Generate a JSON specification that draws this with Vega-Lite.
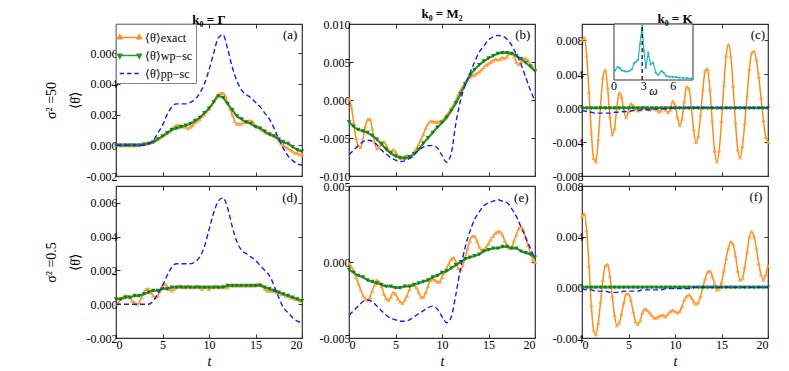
{
"$schema": "https://vega.github.io/schema/vega-lite/v6.json",
"background": "white",
"padding": {"left": 43, "top": 7, "right": 5, "bottom": 5},
"bounds": "flush",
"columns": 3,
"spacing": {"row": 10, "column": 47},
"resolve": {"scale": {"color": "independent"}, "legend": {"color": "independent"}},
"config": {
 "font": "Liberation Serif",
 "view": {"stroke": "#333", "strokeWidth": 1.2},
 "axis": {"domain": false, "grid": false, "tickSize": -4, "tickColor": "#333", "tickWidth": 1, "labelFont": "Liberation Serif", "labelFontSize": 12, "labelColor": "black", "labelPadding": 3, "titleFont": "Liberation Serif", "titleFontWeight": "normal", "titleColor": "black"},
 "title": {"font": "Liberation Serif", "fontSize": 13, "fontWeight": "bold", "offset": -3, "color": "black"}
},
"datasets": {
"exact": [
{"t":0,"a":0,"b":0.0002,"c":0.008,"d":0,"e":-0.0001,"f":0.0056},
{"t":0.25,"a":0,"b":-0.0008,"c":0.0083,"d":0.0001,"e":-0.0003,"f":0.0058},
{"t":0.5,"a":0,"b":-0.003,"c":0.0062,"d":0.0003,"e":-0.0006,"f":0.0045},
{"t":0.75,"a":0,"b":-0.005,"c":0.0019,"d":0.0004,"e":-0.001,"f":0.0017},
{"t":1,"a":0,"b":-0.006,"c":-0.0028,"d":0.0005,"e":-0.0014,"f":-0.0014},
{"t":1.25,"a":0,"b":-0.0062,"c":-0.0059,"d":0.0005,"e":-0.0018,"f":-0.0034},
{"t":1.5,"a":0,"b":-0.0052,"c":-0.0063,"d":0.0004,"e":-0.0022,"f":-0.0037},
{"t":1.75,"a":0,"b":-0.0035,"c":-0.0037,"d":0.0002,"e":-0.0024,"f":-0.0028},
{"t":2,"a":0,"b":-0.0026,"c":0.0003,"d":0.0001,"e":-0.0025,"f":-0.0011},
{"t":2.25,"a":0,"b":-0.0025,"c":0.0036,"d":0,"e":-0.0023,"f":0.0006},
{"t":2.5,"a":0.00002,"b":-0.0038,"c":0.0045,"d":0.0001,"e":-0.0019,"f":0.0017},
{"t":2.75,"a":0.00005,"b":-0.0055,"c":0.0024,"d":0.0004,"e":-0.0015,"f":0.0018},
{"t":3,"a":0.0001,"b":-0.0064,"c":-0.001,"d":0.0007,"e":-0.0012,"f":0.0009},
{"t":3.25,"a":0.00012,"b":-0.0063,"c":-0.0031,"d":0.0009,"e":-0.0013,"f":-0.0007},
{"t":3.5,"a":0.00015,"b":-0.0056,"c":-0.0024,"d":0.0009,"e":-0.0016,"f":-0.0022},
{"t":3.75,"a":0.0002,"b":-0.0055,"c":0.0001,"d":0.0007,"e":-0.0021,"f":-0.003},
{"t":4,"a":0.00025,"b":-0.006,"c":0.0018,"d":0.0005,"e":-0.0024,"f":-0.0028},
{"t":4.25,"a":0.0003,"b":-0.0066,"c":0.0013,"d":0.0004,"e":-0.0025,"f":-0.0021},
{"t":4.5,"a":0.0004,"b":-0.0068,"c":-0.0003,"d":0.0005,"e":-0.0023,"f":-0.0012},
{"t":4.75,"a":0.0005,"b":-0.0065,"c":-0.0011,"d":0.0008,"e":-0.002,"f":-0.0005},
{"t":5,"a":0.0006,"b":-0.0068,"c":-0.0004,"d":0.0011,"e":-0.0021,"f":-0.0005},
{"t":5.25,"a":0.0007,"b":-0.0073,"c":0.0005,"d":0.0012,"e":-0.0024,"f":-0.001},
{"t":5.5,"a":0.0008,"b":-0.0076,"c":0.0003,"d":0.0011,"e":-0.0026,"f":-0.0019},
{"t":5.75,"a":0.0009,"b":-0.0076,"c":-0.0001,"d":0.0009,"e":-0.0027,"f":-0.0027},
{"t":6,"a":0.0011,"b":-0.0074,"c":-0.0003,"d":0.0008,"e":-0.0025,"f":-0.0029},
{"t":6.25,"a":0.0012,"b":-0.0073,"c":-0.0002,"d":0.0009,"e":-0.0022,"f":-0.0026},
{"t":6.5,"a":0.0013,"b":-0.0075,"c":0.0001,"d":0.001,"e":-0.0018,"f":-0.002},
{"t":6.75,"a":0.0013,"b":-0.0074,"c":0.0001,"d":0.0011,"e":-0.0015,"f":-0.0017},
{"t":7,"a":0.0013,"b":-0.0068,"c":-0.0001,"d":0.0011,"e":-0.0015,"f":-0.0018},
{"t":7.25,"a":0.0012,"b":-0.0064,"c":-0.0002,"d":0.001,"e":-0.0017,"f":-0.002},
{"t":7.5,"a":0.0012,"b":-0.0058,"c":-0.0001,"d":0.001,"e":-0.002,"f":-0.0022},
{"t":7.75,"a":0.0011,"b":-0.0052,"c":0,"d":0.0011,"e":-0.0023,"f":-0.0024},
{"t":8,"a":0.0012,"b":-0.0045,"c":-0.0002,"d":0.001,"e":-0.0023,"f":-0.0024},
{"t":8.25,"a":0.0013,"b":-0.0037,"c":-0.0004,"d":0.001,"e":-0.002,"f":-0.0023},
{"t":8.5,"a":0.0015,"b":-0.0031,"c":-0.0003,"d":0.001,"e":-0.0016,"f":-0.0022},
{"t":8.75,"a":0.0016,"b":-0.0028,"c":0,"d":0.0011,"e":-0.0012,"f":-0.0022},
{"t":9,"a":0.0017,"b":-0.0028,"c":-0.0002,"d":0.001,"e":-0.0011,"f":-0.0023},
{"t":9.25,"a":0.0019,"b":-0.0029,"c":-0.0005,"d":0.0009,"e":-0.0012,"f":-0.0021},
{"t":9.5,"a":0.002,"b":-0.0029,"c":-0.0002,"d":0.001,"e":-0.0013,"f":-0.0019},
{"t":9.75,"a":0.0022,"b":-0.0028,"c":0.0008,"d":0.001,"e":-0.0013,"f":-0.0018},
{"t":10,"a":0.0024,"b":-0.0027,"c":0.0004,"d":0.0009,"e":-0.001,"f":-0.0019},
{"t":10.25,"a":0.0026,"b":-0.0024,"c":-0.001,"d":0.001,"e":-0.0007,"f":-0.002},
{"t":10.5,"a":0.0029,"b":-0.002,"c":-0.002,"d":0.001,"e":-0.0004,"f":-0.0019},
{"t":10.75,"a":0.0031,"b":-0.0016,"c":-0.0013,"d":0.0011,"e":-0.0001,"f":-0.0015},
{"t":11,"a":0.0033,"b":-0.0011,"c":0.0008,"d":0.001,"e":0.0002,"f":-0.001},
{"t":11.25,"a":0.0034,"b":-0.0006,"c":0.0025,"d":0.001,"e":0.0003,"f":-0.0007},
{"t":11.5,"a":0.0034,"b":0,"c":0.0023,"d":0.0011,"e":0,"f":-0.0006},
{"t":11.75,"a":0.0032,"b":0.0007,"c":0.0002,"d":0.001,"e":-0.0004,"f":-0.0008},
{"t":12,"a":0.0028,"b":0.0013,"c":-0.0025,"d":0.001,"e":-0.0005,"f":-0.0011},
{"t":12.25,"a":0.0024,"b":0.0018,"c":-0.004,"d":0.0011,"e":-0.0002,"f":-0.0013},
{"t":12.5,"a":0.002,"b":0.0023,"c":-0.0033,"d":0.0011,"e":0.0003,"f":-0.0012},
{"t":12.75,"a":0.0016,"b":0.0027,"c":-0.0008,"d":0.0011,"e":0.0009,"f":-0.0007},
{"t":13,"a":0.0014,"b":0.003,"c":0.0022,"d":0.0011,"e":0.0014,"f":0},
{"t":13.25,"a":0.0014,"b":0.0032,"c":0.0044,"d":0.0011,"e":0.0017,"f":0.0007},
{"t":13.5,"a":0.0014,"b":0.0033,"c":0.0046,"d":0.0011,"e":0.0017,"f":0.0012},
{"t":13.75,"a":0.0015,"b":0.0035,"c":0.0022,"d":0.0011,"e":0.0014,"f":0.0013},
{"t":14,"a":0.0016,"b":0.0037,"c":-0.0015,"d":0.0011,"e":0.001,"f":0.0009},
{"t":14.25,"a":0.0016,"b":0.004,"c":-0.005,"d":0.0011,"e":0.0008,"f":0.0003},
{"t":14.5,"a":0.0016,"b":0.0043,"c":-0.0063,"d":0.0011,"e":0.0008,"f":-0.0002},
{"t":14.75,"a":0.0015,"b":0.0046,"c":-0.005,"d":0.0011,"e":0.001,"f":-0.0001},
{"t":15,"a":0.0013,"b":0.0048,"c":-0.0015,"d":0.0011,"e":0.0012,"f":0.0004},
{"t":15.25,"a":0.0012,"b":0.005,"c":0.0027,"d":0.0012,"e":0.0015,"f":0.0013},
{"t":15.5,"a":0.0011,"b":0.0052,"c":0.0062,"d":0.0012,"e":0.0017,"f":0.0023},
{"t":15.75,"a":0.001,"b":0.0054,"c":0.0075,"d":0.0011,"e":0.0019,"f":0.0031},
{"t":16,"a":0.0009,"b":0.0053,"c":0.0061,"d":0.0009,"e":0.002,"f":0.0036},
{"t":16.25,"a":0.0008,"b":0.0054,"c":0.0026,"d":0.0008,"e":0.002,"f":0.0034},
{"t":16.5,"a":0.0008,"b":0.0056,"c":-0.0017,"d":0.0008,"e":0.0018,"f":0.0025},
{"t":16.75,"a":0.0007,"b":0.0055,"c":-0.0049,"d":0.0008,"e":0.0014,"f":0.0013},
{"t":17,"a":0.0006,"b":0.0057,"c":-0.0058,"d":0.0008,"e":0.0011,"f":0.0006},
{"t":17.25,"a":0.0005,"b":0.0061,"c":-0.0045,"d":0.0007,"e":0.0009,"f":0.0007},
{"t":17.5,"a":0.0003,"b":0.0062,"c":-0.0018,"d":0.0007,"e":0.001,"f":0.0016},
{"t":17.75,"a":0.0001,"b":0.0057,"c":0.0015,"d":0.0006,"e":0.0014,"f":0.0028},
{"t":18,"a":0,"b":0.005,"c":0.0046,"d":0.0006,"e":0.0018,"f":0.004},
{"t":18.25,"a":-0.0001,"b":0.0047,"c":0.0065,"d":0.0005,"e":0.0022,"f":0.0044},
{"t":18.5,"a":-0.0002,"b":0.005,"c":0.0067,"d":0.0005,"e":0.0023,"f":0.004},
{"t":18.75,"a":-0.0003,"b":0.0054,"c":0.0057,"d":0.0004,"e":0.0021,"f":0.0031},
{"t":19,"a":-0.0004,"b":0.0055,"c":0.0037,"d":0.0004,"e":0.0016,"f":0.0019},
{"t":19.25,"a":-0.0005,"b":0.0052,"c":0.0012,"d":0.0003,"e":0.0011,"f":0.001},
{"t":19.5,"a":-0.0005,"b":0.0047,"c":-0.0014,"d":0.0003,"e":0.0006,"f":0.0006},
{"t":19.75,"a":-0.0006,"b":0.0043,"c":-0.0034,"d":0.0002,"e":0.0002,"f":0.001},
{"t":20,"a":-0.0006,"b":0.004,"c":-0.004,"d":0.0002,"e":0,"f":0.0017}
],
"wp": [
{"t":0,"a":0,"b":-0.0029,"c":0,"d":0.0003,"e":-0.0005,"f":0},
{"t":0.5,"a":0,"b":-0.0035,"c":0,"d":0.0003,"e":-0.0007,"f":0},
{"t":1,"a":0,"b":-0.0039,"c":0,"d":0.0004,"e":-0.0009,"f":0},
{"t":1.5,"a":0,"b":-0.0041,"c":0,"d":0.0004,"e":-0.001,"f":0},
{"t":2,"a":0,"b":-0.0043,"c":0,"d":0.0005,"e":-0.0012,"f":0},
{"t":2.5,"a":0,"b":-0.0047,"c":0,"d":0.0005,"e":-0.0013,"f":0},
{"t":3,"a":0.00005,"b":-0.0052,"c":0,"d":0.0006,"e":-0.0014,"f":0},
{"t":3.5,"a":0.0001,"b":-0.0058,"c":0,"d":0.0007,"e":-0.0015,"f":0},
{"t":4,"a":0.0002,"b":-0.0065,"c":0,"d":0.0008,"e":-0.0016,"f":0},
{"t":4.5,"a":0.0004,"b":-0.007,"c":0,"d":0.0008,"e":-0.0016,"f":0},
{"t":5,"a":0.0006,"b":-0.0074,"c":0,"d":0.0009,"e":-0.0017,"f":0},
{"t":5.5,"a":0.0008,"b":-0.0076,"c":0,"d":0.0009,"e":-0.0017,"f":0},
{"t":6,"a":0.001,"b":-0.0077,"c":0,"d":0.001,"e":-0.0016,"f":0},
{"t":6.5,"a":0.0011,"b":-0.0075,"c":0,"d":0.001,"e":-0.0016,"f":0},
{"t":7,"a":0.0012,"b":-0.0071,"c":0,"d":0.001,"e":-0.0015,"f":0},
{"t":7.5,"a":0.0013,"b":-0.0065,"c":0,"d":0.001,"e":-0.0014,"f":0},
{"t":8,"a":0.0014,"b":-0.0057,"c":0,"d":0.001,"e":-0.0013,"f":0},
{"t":8.5,"a":0.0016,"b":-0.005,"c":0,"d":0.001,"e":-0.0012,"f":0},
{"t":9,"a":0.0018,"b":-0.0043,"c":0,"d":0.001,"e":-0.001,"f":0},
{"t":9.5,"a":0.0021,"b":-0.0036,"c":0,"d":0.001,"e":-0.0009,"f":0},
{"t":10,"a":0.0024,"b":-0.003,"c":0,"d":0.001,"e":-0.0007,"f":0},
{"t":10.5,"a":0.0028,"b":-0.0023,"c":0,"d":0.001,"e":-0.0006,"f":0},
{"t":11,"a":0.0032,"b":-0.0014,"c":0,"d":0.001,"e":-0.0004,"f":0},
{"t":11.5,"a":0.0031,"b":-0.0004,"c":0,"d":0.001,"e":-0.0002,"f":0},
{"t":12,"a":0.0027,"b":0.0008,"c":0,"d":0.0011,"e":0,"f":0},
{"t":12.5,"a":0.0023,"b":0.0021,"c":0,"d":0.0011,"e":0.0002,"f":0},
{"t":13,"a":0.0019,"b":0.0032,"c":0,"d":0.0011,"e":0.0003,"f":0},
{"t":13.5,"a":0.0017,"b":0.004,"c":0,"d":0.0011,"e":0.0004,"f":0},
{"t":14,"a":0.0015,"b":0.0046,"c":0,"d":0.0011,"e":0.0005,"f":0},
{"t":14.5,"a":0.0014,"b":0.0051,"c":0,"d":0.0011,"e":0.0007,"f":0},
{"t":15,"a":0.0012,"b":0.0055,"c":0,"d":0.0011,"e":0.0008,"f":0},
{"t":15.5,"a":0.0011,"b":0.0058,"c":0,"d":0.0011,"e":0.0009,"f":0},
{"t":16,"a":0.0009,"b":0.0061,"c":0,"d":0.001,"e":0.0009,"f":0},
{"t":16.5,"a":0.0007,"b":0.0062,"c":0,"d":0.0009,"e":0.001,"f":0},
{"t":17,"a":0.0006,"b":0.0062,"c":0,"d":0.0008,"e":0.001,"f":0},
{"t":17.5,"a":0.0004,"b":0.0061,"c":0,"d":0.0007,"e":0.0009,"f":0},
{"t":18,"a":0.0002,"b":0.0058,"c":0,"d":0.0006,"e":0.0009,"f":0},
{"t":18.5,"a":0.0001,"b":0.0054,"c":0,"d":0.0005,"e":0.0007,"f":0},
{"t":19,"a":-0.0001,"b":0.0049,"c":0,"d":0.0004,"e":0.0006,"f":0},
{"t":19.5,"a":-0.0003,"b":0.0044,"c":0,"d":0.0003,"e":0.0005,"f":0},
{"t":20,"a":-0.0004,"b":0.0038,"c":0,"d":0.0002,"e":0.0003,"f":0}
],
"pp": [
{"t":0,"a":0,"b":-0.0072,"c":-0.0003,"d":0,"e":-0.0035,"f":-0.0001},
{"t":0.5,"a":0,"b":-0.0066,"c":-0.0004,"d":0,"e":-0.0032,"f":-0.0002},
{"t":1,"a":0,"b":-0.006,"c":-0.0005,"d":0,"e":-0.0029,"f":-0.0002},
{"t":1.5,"a":0,"b":-0.0055,"c":-0.0006,"d":0,"e":-0.0026,"f":-0.0003},
{"t":2,"a":0,"b":-0.0053,"c":-0.0006,"d":0,"e":-0.0025,"f":-0.0003},
{"t":2.5,"a":0,"b":-0.0054,"c":-0.0006,"d":0,"e":-0.0026,"f":-0.0003},
{"t":3,"a":0,"b":-0.0059,"c":-0.0006,"d":0,"e":-0.0029,"f":-0.0004},
{"t":3.5,"a":0.0001,"b":-0.0066,"c":-0.0005,"d":0,"e":-0.0032,"f":-0.0004},
{"t":4,"a":0.0003,"b":-0.0071,"c":-0.0005,"d":0.0002,"e":-0.0035,"f":-0.0004},
{"t":4.5,"a":0.0008,"b":-0.0076,"c":-0.0004,"d":0.0006,"e":-0.0037,"f":-0.0003},
{"t":5,"a":0.0013,"b":-0.0079,"c":-0.0004,"d":0.0011,"e":-0.0038,"f":-0.0003},
{"t":5.5,"a":0.002,"b":-0.0081,"c":-0.0003,"d":0.0017,"e":-0.0039,"f":-0.0003},
{"t":6,"a":0.0025,"b":-0.008,"c":-0.0003,"d":0.0022,"e":-0.0039,"f":-0.0003},
{"t":6.5,"a":0.0027,"b":-0.0077,"c":-0.0002,"d":0.0024,"e":-0.0038,"f":-0.0002},
{"t":7,"a":0.0027,"b":-0.0072,"c":-0.0002,"d":0.0024,"e":-0.0036,"f":-0.0002},
{"t":7.5,"a":0.0027,"b":-0.0066,"c":-0.0002,"d":0.0024,"e":-0.0034,"f":-0.0002},
{"t":8,"a":0.0028,"b":-0.0062,"c":-0.0001,"d":0.0024,"e":-0.0032,"f":-0.0002},
{"t":8.5,"a":0.003,"b":-0.006,"c":-0.0001,"d":0.0025,"e":-0.003,"f":-0.0002},
{"t":9,"a":0.0034,"b":-0.006,"c":-0.0001,"d":0.0028,"e":-0.0029,"f":-0.0001},
{"t":9.5,"a":0.004,"b":-0.0063,"c":0,"d":0.0034,"e":-0.0031,"f":-0.0001},
{"t":10,"a":0.0049,"b":-0.0073,"c":0,"d":0.0044,"e":-0.0036,"f":-0.0001},
{"t":10.5,"a":0.006,"b":-0.0082,"c":0.00005,"d":0.0054,"e":-0.004,"f":-0.0001},
{"t":11,"a":0.007,"b":-0.007,"c":0.00005,"d":0.0061,"e":-0.0036,"f":-0.0001},
{"t":11.5,"a":0.0072,"b":-0.003,"c":0.00005,"d":0.0063,"e":-0.0021,"f":-0.0001},
{"t":12,"a":0.0063,"b":0,"c":0.00005,"d":0.0057,"e":-0.0004,"f":0},
{"t":12.5,"a":0.0051,"b":0.002,"c":0.00005,"d":0.0046,"e":0.001,"f":0},
{"t":13,"a":0.0042,"b":0.0035,"c":0.00005,"d":0.0037,"e":0.002,"f":0},
{"t":13.5,"a":0.0036,"b":0.005,"c":0.00005,"d":0.0032,"e":0.0028,"f":0},
{"t":14,"a":0.0033,"b":0.0063,"c":0.00005,"d":0.003,"e":0.0033,"f":0},
{"t":14.5,"a":0.0031,"b":0.0071,"c":0.00005,"d":0.0028,"e":0.0037,"f":0},
{"t":15,"a":0.0028,"b":0.0079,"c":0.00005,"d":0.0026,"e":0.0039,"f":0},
{"t":15.5,"a":0.0025,"b":0.0083,"c":0.00005,"d":0.0023,"e":0.004,"f":0},
{"t":16,"a":0.0021,"b":0.0085,"c":0.00005,"d":0.002,"e":0.0041,"f":0},
{"t":16.5,"a":0.0017,"b":0.0084,"c":0.00005,"d":0.0017,"e":0.004,"f":0},
{"t":17,"a":0.0011,"b":0.008,"c":0.00005,"d":0.0011,"e":0.0039,"f":0},
{"t":17.5,"a":0.0004,"b":0.0072,"c":0.00005,"d":0.0004,"e":0.0035,"f":0},
{"t":18,"a":-0.0002,"b":0.006,"c":0.00005,"d":-0.0002,"e":0.003,"f":0},
{"t":18.5,"a":-0.0007,"b":0.0047,"c":0.00005,"d":-0.0005,"e":0.0023,"f":0},
{"t":19,"a":-0.001,"b":0.003,"c":0.00005,"d":-0.0008,"e":0.0016,"f":0},
{"t":19.5,"a":-0.0012,"b":0.0013,"c":0.00005,"d":-0.001,"e":0.0009,"f":0},
{"t":20,"a":-0.0013,"b":-0.0001,"c":0.00005,"d":-0.0011,"e":0.0002,"f":0}
],
"inset": [
{"w":0.1,"v":0.17},{"w":0.37,"v":0.23},{"w":0.6,"v":0.21},{"w":0.8,"v":0.17},{"w":1.05,"v":0.16},{"w":1.3,"v":0.15},{"w":1.55,"v":0.16},{"w":1.8,"v":0.19},{"w":2.05,"v":0.3},{"w":2.25,"v":0.33},{"w":2.45,"v":0.36},{"w":2.63,"v":0.64},{"w":2.85,"v":0.98},{"w":3.03,"v":0.52},{"w":3.23,"v":0.22},{"w":3.47,"v":0.49},{"w":3.7,"v":0.28},{"w":3.97,"v":0.31},{"w":4.23,"v":0.13},{"w":4.47,"v":0.09},{"w":4.8,"v":0.16},{"w":5.03,"v":0.13},{"w":5.3,"v":0.07},{"w":5.6,"v":0.06},{"w":5.97,"v":0.05},{"w":6.3,"v":0.05},{"w":6.63,"v":0.04},{"w":7.0,"v":0.04},{"w":7.4,"v":0.03},{"w":7.9,"v":0.03}
]
},
"concat": [
{
 "width": 186, "height": 152,
 "title": {"text": "k₀ = Γ"},
 "layer": [
  {"data": {"name": "exact"}, "mark": {"type": "line", "strokeWidth": 1.5, "interpolate": "monotone"},
   "encoding": {
    "x": {"field": "t", "type": "quantitative", "scale": {"domain": [0, 20], "nice": false}, "axis": {"orient": "bottom", "values": [0,5,10,15,20], "labels": false, "title": null}},
    "y": {"field": "a", "type": "quantitative", "scale": {"domain": [-0.002, 0.0079], "nice": false, "zero": false}, "axis": {"orient": "left", "values": [-0.002,0,0.002,0.004,0.006], "labelExpr": "replace(format(datum.value, '.3f'), '\u2212', '-')", "title": ["σ² =50", "⟨θ̇⟩"], "titleFontSize": 14, "titleLineHeight": 24, "titlePadding": 4}},
    "color": {"datum": "⟨θ̇⟩exact", "type": "nominal",
      "scale": {"domain": ["⟨θ̇⟩exact", "⟨θ̇⟩wp−sc", "⟨θ̇⟩pp−sc"], "range": ["#ff8c1a", "#2a9a2a", "#1a1aff"]},
      "legend": {"title": null, "orient": "top-left", "offset": 0, "padding": 3, "fillColor": "white", "strokeColor": "#888", "cornerRadius": 0,
        "labelFont": "Liberation Serif", "labelFontSize": 12, "labelColor": "black", "labelOffset": 5,
        "symbolSize": 380, "symbolStrokeWidth": 1.5, "rowPadding": 1,
        "encode": {"symbols": {"update": {
          "shape": {"signal": "datum.index === 0 ? 'M-1,0L1,0M-1,-0.28L-0.78,0.14L-1.22,0.14ZM1,-0.28L1.22,0.14L0.78,0.14Z' : datum.index === 1 ? 'M-1,0L1,0M-1,0.28L-0.78,-0.14L-1.22,-0.14ZM1,0.28L1.22,-0.14L0.78,-0.14Z' : 'M-1,0L-0.55,0M-0.25,0L0.2,0M0.5,0L0.95,0'"},
          "fill": {"signal": "datum.index === 0 ? '#ff9f40' : datum.index === 1 ? '#137813' : 'transparent'"},
          "stroke": {"signal": "datum.index === 0 ? '#ff8c1a' : datum.index === 1 ? '#2a9a2a' : '#1a1aff'"},
          "strokeDash": {"value": [1, 0]},
          "opacity": {"value": 1}
        }}}}
    }
   }},
  {"data": {"name": "exact"}, "mark": {"type": "point", "shape": "triangle-up", "filled": true, "size": 20, "color": "#ff9f40", "opacity": 0.85},
   "encoding": {"x": {"field": "t", "type": "quantitative", "axis": {"orient": "top", "values": [0,5,10,15,20], "labels": false, "title": null}}, "y": {"field": "a", "type": "quantitative", "axis": {"orient": "right", "values": [-0.002,0,0.002,0.004,0.006], "labels": false, "title": null}}}},
  {"data": {"name": "wp"}, "mark": {"type": "line", "strokeWidth": 2.2, "interpolate": "monotone"},
   "encoding": {"x": {"field": "t", "type": "quantitative", "axis": null}, "y": {"field": "a", "type": "quantitative", "axis": null}, "color": {"datum": "⟨θ̇⟩wp−sc", "type": "nominal"}}},
  {"data": {"name": "wp"}, "mark": {"type": "point", "shape": "triangle-down", "filled": true, "size": 20, "color": "#137813", "opacity": 0.9},
   "encoding": {"x": {"field": "t", "type": "quantitative", "axis": null}, "y": {"field": "a", "type": "quantitative", "axis": null}}},
  {"data": {"name": "pp"}, "mark": {"type": "line", "strokeWidth": 1.4, "strokeDash": [5, 3], "interpolate": "monotone"},
   "encoding": {"x": {"field": "t", "type": "quantitative", "axis": null}, "y": {"field": "a", "type": "quantitative", "axis": null}, "color": {"datum": "⟨θ̇⟩pp−sc", "type": "nominal"}}},
  {"data": {"values": [{}]}, "mark": {"type": "text", "align": "right", "baseline": "middle", "fontSize": 13, "font": "Liberation Serif"},
   "encoding": {"x": {"datum": 19.5, "type": "quantitative", "axis": null}, "y": {"datum": 0.0072, "type": "quantitative", "axis": null}, "text": {"value": "(a)"}}}
 ],
 "resolve": {"axis": {"x": "independent", "y": "independent"}}
},
{
 "width": 186, "height": 152,
 "title": {"text": "k₀ = M₂"},
 "layer": [
  {"data": {"name": "exact"}, "mark": {"type": "line", "color": "#ff8c1a", "strokeWidth": 1.5, "interpolate": "monotone"},
   "encoding": {
    "x": {"field": "t", "type": "quantitative", "scale": {"domain": [0, 20], "nice": false}, "axis": {"orient": "bottom", "values": [0,5,10,15,20], "labels": false, "title": null}},
    "y": {"field": "b", "type": "quantitative", "scale": {"domain": [-0.01, 0.01], "nice": false, "zero": false}, "axis": {"orient": "left", "values": [-0.01,-0.005,0,0.005,0.01], "labelExpr": "replace(format(datum.value, '.3f'), '\u2212', '-')", "title": null}}
   }},
  {"data": {"name": "exact"}, "mark": {"type": "point", "shape": "triangle-up", "filled": true, "size": 20, "color": "#ff9f40", "opacity": 0.85},
   "encoding": {"x": {"field": "t", "type": "quantitative", "axis": {"orient": "top", "values": [0,5,10,15,20], "labels": false, "title": null}}, "y": {"field": "b", "type": "quantitative", "axis": {"orient": "right", "values": [-0.01,-0.005,0,0.005,0.01], "labels": false, "title": null}}}},
  {"data": {"name": "wp"}, "mark": {"type": "line", "color": "#2a9a2a", "strokeWidth": 2.2, "interpolate": "monotone"},
   "encoding": {"x": {"field": "t", "type": "quantitative", "axis": null}, "y": {"field": "b", "type": "quantitative", "axis": null}}},
  {"data": {"name": "wp"}, "mark": {"type": "point", "shape": "triangle-down", "filled": true, "size": 20, "color": "#137813", "opacity": 0.9},
   "encoding": {"x": {"field": "t", "type": "quantitative", "axis": null}, "y": {"field": "b", "type": "quantitative", "axis": null}}},
  {"data": {"name": "pp"}, "mark": {"type": "line", "color": "#1a1aff", "strokeWidth": 1.4, "strokeDash": [5, 3], "interpolate": "monotone"},
   "encoding": {"x": {"field": "t", "type": "quantitative", "axis": null}, "y": {"field": "b", "type": "quantitative", "axis": null}}},
  {"data": {"values": [{}]}, "mark": {"type": "text", "align": "right", "baseline": "middle", "fontSize": 13, "font": "Liberation Serif"},
   "encoding": {"x": {"datum": 19.5, "type": "quantitative", "axis": null}, "y": {"datum": 0.0085, "type": "quantitative", "axis": null}, "text": {"value": "(b)"}}}
 ],
 "resolve": {"axis": {"x": "independent", "y": "independent"}}
},
{
 "width": 186, "height": 152,
 "title": {"text": "k₀ = K"},
 "layer": [
  {
   "layer": [
    {"data": {"name": "exact"}, "mark": {"type": "line", "color": "#ff8c1a", "strokeWidth": 1.5, "interpolate": "monotone"},
     "encoding": {
      "x": {"field": "t", "type": "quantitative", "scale": {"domain": [0, 20], "nice": false}, "axis": {"orient": "bottom", "values": [0,5,10,15,20], "labels": false, "title": null}},
      "y": {"field": "c", "type": "quantitative", "scale": {"domain": [-0.008, 0.0099], "nice": false, "zero": false}, "axis": {"orient": "left", "values": [-0.008,-0.004,0,0.004,0.008], "labelExpr": "replace(format(datum.value, '.3f'), '\u2212', '-')", "title": null}}
     }},
    {"data": {"name": "exact"}, "mark": {"type": "point", "shape": "triangle-up", "filled": true, "size": 20, "color": "#ff9f40", "opacity": 0.85},
     "encoding": {"x": {"field": "t", "type": "quantitative", "axis": {"orient": "top", "values": [0,5,10,15,20], "labels": false, "title": null}}, "y": {"field": "c", "type": "quantitative", "axis": {"orient": "right", "values": [-0.008,-0.004,0,0.004,0.008], "labels": false, "title": null}}}},
    {"data": {"name": "wp"}, "mark": {"type": "line", "color": "#2a9a2a", "strokeWidth": 2.2, "interpolate": "monotone"},
     "encoding": {"x": {"field": "t", "type": "quantitative", "axis": null}, "y": {"field": "c", "type": "quantitative", "axis": null}}},
    {"data": {"name": "wp"}, "mark": {"type": "point", "shape": "triangle-down", "filled": true, "size": 20, "color": "#137813", "opacity": 0.9},
     "encoding": {"x": {"field": "t", "type": "quantitative", "axis": null}, "y": {"field": "c", "type": "quantitative", "axis": null}}},
    {"data": {"name": "pp"}, "mark": {"type": "line", "color": "#1a1aff", "strokeWidth": 1.4, "strokeDash": [5, 3], "interpolate": "monotone"},
     "encoding": {"x": {"field": "t", "type": "quantitative", "axis": null}, "y": {"field": "c", "type": "quantitative", "axis": null}}},
    {"data": {"values": [{}]}, "mark": {"type": "text", "align": "right", "baseline": "middle", "fontSize": 13, "font": "Liberation Serif"},
     "encoding": {"x": {"datum": 19.7, "type": "quantitative", "axis": null}, "y": {"datum": 0.0086, "type": "quantitative", "axis": null}, "text": {"value": "(c)"}}}
   ],
   "resolve": {"axis": {"x": "independent", "y": "independent"}}
  },
  {
   "layer": [
    {"data": {"values": [{}]}, "mark": {"type": "rect", "fill": "white", "stroke": "#333", "strokeWidth": 1},
     "encoding": {
      "x": {"datum": 0, "type": "quantitative", "scale": {"domain": [0, 8], "range": [32, 111], "nice": false, "zero": false}, "axis": null},
      "x2": {"datum": 8},
      "y": {"datum": 0, "type": "quantitative", "scale": {"domain": [0, 1], "range": [56, 0], "nice": false, "zero": false}, "axis": null},
      "y2": {"datum": 1}
     }},
    {"data": {"name": "inset"}, "mark": {"type": "line", "color": "#22b8c0", "strokeWidth": 1.2},
     "encoding": {"x": {"field": "w", "type": "quantitative", "axis": null}, "y": {"field": "v", "type": "quantitative", "axis": null}}},
    {"data": {"name": "inset"}, "mark": {"type": "point", "filled": true, "size": 5, "color": "#22b8c0", "opacity": 1},
     "encoding": {"x": {"field": "w", "type": "quantitative", "axis": null}, "y": {"field": "v", "type": "quantitative", "axis": null}}},
    {"data": {"values": [{}]}, "mark": {"type": "rule", "color": "black", "strokeWidth": 1.2, "strokeDash": [4, 3]},
     "encoding": {"x": {"datum": 2.85, "type": "quantitative", "axis": null}, "y": {"datum": 0, "type": "quantitative", "axis": null}, "y2": {"datum": 1}}},
    {"data": {"values": [{}]}, "mark": {"type": "text", "align": "center", "baseline": "top", "fontSize": 12, "font": "Liberation Serif"},
     "encoding": {"x": {"datum": 0, "type": "quantitative", "axis": null}, "y": {"datum": -0.02, "type": "quantitative", "axis": null}, "text": {"value": "0"}}},
    {"data": {"values": [{}]}, "mark": {"type": "text", "align": "center", "baseline": "top", "fontSize": 12, "font": "Liberation Serif"},
     "encoding": {"x": {"datum": 3, "type": "quantitative", "axis": null}, "y": {"datum": -0.02, "type": "quantitative", "axis": null}, "text": {"value": "3"}}},
    {"data": {"values": [{}]}, "mark": {"type": "text", "align": "center", "baseline": "top", "fontSize": 12, "font": "Liberation Serif"},
     "encoding": {"x": {"datum": 6, "type": "quantitative", "axis": null}, "y": {"datum": -0.02, "type": "quantitative", "axis": null}, "text": {"value": "6"}}},
    {"data": {"values": [{}]}, "mark": {"type": "text", "align": "center", "baseline": "middle", "fontSize": 12, "fontStyle": "italic", "font": "Liberation Serif"},
     "encoding": {"x": {"datum": 4.0, "type": "quantitative", "axis": null}, "y": {"datum": -0.2, "type": "quantitative", "axis": null}, "text": {"value": "ω"}}}
   ]
  }
 ],
 "resolve": {"scale": {"x": "independent", "y": "independent"}}
},
{
 "width": 186, "height": 152,
 "layer": [
  {"data": {"name": "exact"}, "mark": {"type": "line", "color": "#ff8c1a", "strokeWidth": 1.5, "interpolate": "monotone"},
   "encoding": {
    "x": {"field": "t", "type": "quantitative", "scale": {"domain": [0, 20], "nice": false}, "axis": {"orient": "bottom", "values": [0,5,10,15,20], "format": "d", "labelPadding": 5, "title": "t", "titleFontStyle": "italic", "titleFontSize": 14, "titlePadding": 4}},
    "y": {"field": "d", "type": "quantitative", "scale": {"domain": [-0.002, 0.007], "nice": false, "zero": false}, "axis": {"orient": "left", "values": [-0.002,0,0.002,0.004,0.006], "labelExpr": "replace(format(datum.value, '.3f'), '\u2212', '-')", "title": ["σ² =0.5", "⟨θ̇⟩"], "titleFontSize": 14, "titleLineHeight": 24, "titlePadding": 4}}
   }},
  {"data": {"name": "exact"}, "mark": {"type": "point", "shape": "triangle-up", "filled": true, "size": 20, "color": "#ff9f40", "opacity": 0.85},
   "encoding": {"x": {"field": "t", "type": "quantitative", "axis": {"orient": "top", "values": [0,5,10,15,20], "labels": false, "title": null}}, "y": {"field": "d", "type": "quantitative", "axis": {"orient": "right", "values": [-0.002,0,0.002,0.004,0.006], "labels": false, "title": null}}}},
  {"data": {"name": "wp"}, "mark": {"type": "line", "color": "#2a9a2a", "strokeWidth": 2.2, "interpolate": "monotone"},
   "encoding": {"x": {"field": "t", "type": "quantitative", "axis": null}, "y": {"field": "d", "type": "quantitative", "axis": null}}},
  {"data": {"name": "wp"}, "mark": {"type": "point", "shape": "triangle-down", "filled": true, "size": 20, "color": "#137813", "opacity": 0.9},
   "encoding": {"x": {"field": "t", "type": "quantitative", "axis": null}, "y": {"field": "d", "type": "quantitative", "axis": null}}},
  {"data": {"name": "pp"}, "mark": {"type": "line", "color": "#1a1aff", "strokeWidth": 1.4, "strokeDash": [5, 3], "interpolate": "monotone"},
   "encoding": {"x": {"field": "t", "type": "quantitative", "axis": null}, "y": {"field": "d", "type": "quantitative", "axis": null}}},
  {"data": {"values": [{}]}, "mark": {"type": "text", "align": "right", "baseline": "middle", "fontSize": 13, "font": "Liberation Serif"},
   "encoding": {"x": {"datum": 19.5, "type": "quantitative", "axis": null}, "y": {"datum": 0.0063, "type": "quantitative", "axis": null}, "text": {"value": "(d)"}}}
 ],
 "resolve": {"axis": {"x": "independent", "y": "independent"}}
},
{
 "width": 186, "height": 152,
 "layer": [
  {"data": {"name": "exact"}, "mark": {"type": "line", "color": "#ff8c1a", "strokeWidth": 1.5, "interpolate": "monotone"},
   "encoding": {
    "x": {"field": "t", "type": "quantitative", "scale": {"domain": [0, 20], "nice": false}, "axis": {"orient": "bottom", "values": [0,5,10,15,20], "format": "d", "labelPadding": 5, "title": "t", "titleFontStyle": "italic", "titleFontSize": 14, "titlePadding": 4}},
    "y": {"field": "e", "type": "quantitative", "scale": {"domain": [-0.005, 0.005], "nice": false, "zero": false}, "axis": {"orient": "left", "values": [-0.005,0,0.005], "labelExpr": "replace(format(datum.value, '.3f'), '\u2212', '-')", "title": null}}
   }},
  {"data": {"name": "exact"}, "mark": {"type": "point", "shape": "triangle-up", "filled": true, "size": 20, "color": "#ff9f40", "opacity": 0.85},
   "encoding": {"x": {"field": "t", "type": "quantitative", "axis": {"orient": "top", "values": [0,5,10,15,20], "labels": false, "title": null}}, "y": {"field": "e", "type": "quantitative", "axis": {"orient": "right", "values": [-0.005,0,0.005], "labels": false, "title": null}}}},
  {"data": {"name": "wp"}, "mark": {"type": "line", "color": "#2a9a2a", "strokeWidth": 2.2, "interpolate": "monotone"},
   "encoding": {"x": {"field": "t", "type": "quantitative", "axis": null}, "y": {"field": "e", "type": "quantitative", "axis": null}}},
  {"data": {"name": "wp"}, "mark": {"type": "point", "shape": "triangle-down", "filled": true, "size": 20, "color": "#137813", "opacity": 0.9},
   "encoding": {"x": {"field": "t", "type": "quantitative", "axis": null}, "y": {"field": "e", "type": "quantitative", "axis": null}}},
  {"data": {"name": "pp"}, "mark": {"type": "line", "color": "#1a1aff", "strokeWidth": 1.4, "strokeDash": [5, 3], "interpolate": "monotone"},
   "encoding": {"x": {"field": "t", "type": "quantitative", "axis": null}, "y": {"field": "e", "type": "quantitative", "axis": null}}},
  {"data": {"values": [{}]}, "mark": {"type": "text", "align": "right", "baseline": "middle", "fontSize": 13, "font": "Liberation Serif"},
   "encoding": {"x": {"datum": 19.3, "type": "quantitative", "axis": null}, "y": {"datum": 0.0042, "type": "quantitative", "axis": null}, "text": {"value": "(e)"}}}
 ],
 "resolve": {"axis": {"x": "independent", "y": "independent"}}
},
{
 "width": 186, "height": 152,
 "layer": [
  {"data": {"name": "exact"}, "mark": {"type": "line", "color": "#ff8c1a", "strokeWidth": 1.5, "interpolate": "monotone"},
   "encoding": {
    "x": {"field": "t", "type": "quantitative", "scale": {"domain": [0, 20], "nice": false}, "axis": {"orient": "bottom", "values": [0,5,10,15,20], "format": "d", "labelPadding": 5, "title": "t", "titleFontStyle": "italic", "titleFontSize": 14, "titlePadding": 4}},
    "y": {"field": "f", "type": "quantitative", "scale": {"domain": [-0.004, 0.008], "nice": false, "zero": false}, "axis": {"orient": "left", "values": [-0.004,0,0.004,0.008], "labelExpr": "replace(format(datum.value, '.3f'), '\u2212', '-')", "title": null}}
   }},
  {"data": {"name": "exact"}, "mark": {"type": "point", "shape": "triangle-up", "filled": true, "size": 20, "color": "#ff9f40", "opacity": 0.85},
   "encoding": {"x": {"field": "t", "type": "quantitative", "axis": {"orient": "top", "values": [0,5,10,15,20], "labels": false, "title": null}}, "y": {"field": "f", "type": "quantitative", "axis": {"orient": "right", "values": [-0.004,0,0.004,0.008], "labels": false, "title": null}}}},
  {"data": {"name": "wp"}, "mark": {"type": "line", "color": "#2a9a2a", "strokeWidth": 2.2, "interpolate": "monotone"},
   "encoding": {"x": {"field": "t", "type": "quantitative", "axis": null}, "y": {"field": "f", "type": "quantitative", "axis": null}}},
  {"data": {"name": "wp"}, "mark": {"type": "point", "shape": "triangle-down", "filled": true, "size": 20, "color": "#137813", "opacity": 0.9},
   "encoding": {"x": {"field": "t", "type": "quantitative", "axis": null}, "y": {"field": "f", "type": "quantitative", "axis": null}}},
  {"data": {"name": "pp"}, "mark": {"type": "line", "color": "#1a1aff", "strokeWidth": 1.4, "strokeDash": [5, 3], "interpolate": "monotone"},
   "encoding": {"x": {"field": "t", "type": "quantitative", "axis": null}, "y": {"field": "f", "type": "quantitative", "axis": null}}},
  {"data": {"values": [{}]}, "mark": {"type": "text", "align": "right", "baseline": "middle", "fontSize": 13, "font": "Liberation Serif"},
   "encoding": {"x": {"datum": 19.4, "type": "quantitative", "axis": null}, "y": {"datum": 0.0071, "type": "quantitative", "axis": null}, "text": {"value": "(f)"}}}
 ],
 "resolve": {"axis": {"x": "independent", "y": "independent"}}
}
]
}
